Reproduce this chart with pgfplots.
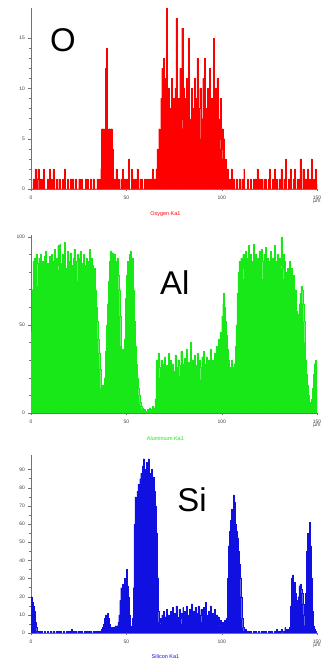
\documentclass[border=0pt]{standalone}
\usepackage{pgfplots}
\pgfplotsset{compat=1.18}
\usepackage{pgfplotstable}
\usepackage{fontspec}
\setmainfont{Liberation Sans}

\definecolor{oxred}{RGB}{255,0,0}
\definecolor{algreen}{RGB}{24,232,24}
\definecolor{siblue}{RGB}{16,16,224}

% EDS line scan, counts sampled every 0.5 um from 0 to 150 um
\pgfplotstableread[row sep=\\]{y\\
0\\0\\1\\0\\2\\0\\1\\2\\0\\1\\
0\\1\\0\\2\\0\\0\\0\\1\\0\\2\\
0\\1\\0\\2\\0\\0\\1\\0\\0\\1\\
0\\0\\0\\1\\0\\2\\0\\0\\1\\0\\
0\\1\\0\\1\\0\\0\\1\\0\\0\\0\\
1\\0\\0\\1\\0\\0\\0\\1\\0\\1\\
0\\0\\1\\0\\0\\1\\0\\0\\0\\1\\
0\\1\\0\\2\\6\\5\\6\\5\\12\\14\\
6\\5\\6\\5\\6\\4\\0\\1\\0\\2\\
0\\1\\0\\0\\1\\0\\2\\0\\1\\0\\
1\\0\\3\\0\\0\\2\\0\\1\\0\\1\\
0\\2\\0\\0\\1\\0\\1\\0\\0\\1\\
0\\1\\0\\1\\0\\1\\0\\2\\0\\1\\
1\\2\\4\\3\\6\\5\\9\\12\\6\\13\\
7\\11\\18\\6\\10\\5\\8\\11\\6\\9\\
7\\10\\17\\6\\9\\5\\12\\7\\16\\6\\
10\\5\\9\\11\\6\\15\\7\\5\\10\\6\\
8\\11\\5\\9\\13\\6\\8\\10\\5\\7\\
11\\6\\13\\8\\5\\10\\7\\12\\6\\9\\
5\\15\\8\\10\\6\\11\\7\\5\\9\\4\\
6\\3\\5\\2\\3\\1\\2\\0\\1\\0\\
2\\0\\1\\0\\0\\1\\0\\0\\1\\0\\
0\\1\\0\\2\\0\\0\\0\\1\\0\\0\\
1\\0\\0\\1\\0\\1\\0\\2\\0\\1\\
0\\1\\0\\0\\1\\0\\1\\0\\0\\1\\
2\\0\\0\\1\\0\\2\\0\\1\\0\\0\\
1\\0\\2\\0\\0\\1\\0\\3\\0\\0\\
1\\0\\2\\0\\0\\1\\2\\0\\0\\1\\
0\\1\\3\\0\\0\\2\\0\\0\\1\\0\\
2\\0\\1\\0\\3\\1\\0\\1\\2\\0\\
1\\
}\Odata

\pgfplotstableread[row sep=\\]{y\\
46\\70\\86\\88\\82\\90\\85\\72\\88\\86\\
90\\80\\86\\68\\89\\92\\80\\85\\75\\89\\
83\\90\\72\\86\\93\\78\\88\\84\\95\\81\\
96\\85\\73\\90\\88\\97\\82\\77\\92\\86\\
80\\91\\84\\72\\88\\93\\79\\86\\90\\75\\
88\\82\\92\\76\\85\\90\\72\\84\\88\\80\\
86\\93\\78\\88\\84\\76\\82\\70\\60\\52\\
42\\34\\25\\14\\10\\16\\12\\20\\35\\50\\
62\\75\\86\\92\\88\\91\\84\\90\\80\\86\\
88\\78\\70\\55\\38\\32\\36\\34\\42\\65\\
78\\86\\80\\90\\92\\86\\88\\70\\52\\38\\
28\\20\\14\\10\\6\\4\\2\\3\\1\\2\\
1\\0\\2\\1\\3\\2\\1\\4\\2\\3\\
8\\30\\22\\34\\26\\20\\30\\24\\18\\28\\
32\\22\\27\\20\\34\\25\\30\\19\\28\\24\\
22\\33\\26\\18\\30\\27\\21\\35\\24\\28\\
20\\31\\25\\36\\22\\29\\24\\40\\26\\30\\
22\\33\\27\\21\\34\\24\\30\\26\\19\\32\\
25\\35\\22\\28\\32\\24\\30\\27\\36\\29\\
30\\26\\34\\28\\38\\32\\42\\36\\46\\44\\
55\\62\\68\\60\\52\\44\\36\\30\\26\\24\\
30\\26\\22\\28\\38\\50\\68\\80\\86\\78\\
88\\82\\90\\76\\85\\92\\80\\88\\95\\84\\
90\\78\\86\\96\\82\\90\\74\\88\\84\\92\\
80\\93\\86\\76\\90\\84\\94\\78\\88\\82\\
86\\92\\76\\88\\84\\95\\80\\86\\90\\78\\
88\\84\\100\\82\\90\\76\\86\\80\\74\\82\\
80\\86\\74\\82\\70\\78\\64\\70\\58\\52\\
56\\62\\68\\72\\70\\62\\52\\40\\30\\22\\
16\\10\\6\\4\\8\\14\\22\\28\\30\\26\\
20\\
}\Aldata

\pgfplotstableread[row sep=\\]{y\\
20\\17\\15\\12\\6\\3\\1\\0\\1\\0\\
0\\1\\0\\0\\1\\0\\0\\1\\0\\0\\
1\\0\\0\\1\\0\\0\\1\\0\\1\\0\\
0\\1\\0\\0\\1\\0\\0\\1\\0\\1\\
1\\0\\2\\0\\1\\0\\1\\0\\0\\1\\
0\\1\\0\\1\\0\\0\\1\\0\\1\\0\\
1\\0\\1\\0\\0\\1\\0\\1\\1\\0\\
1\\0\\1\\1\\2\\3\\5\\8\\10\\9\\
11\\8\\5\\3\\2\\3\\2\\3\\4\\3\\
4\\6\\10\\18\\25\\22\\27\\24\\30\\28\\
35\\26\\20\\10\\4\\3\\8\\25\\60\\75\\
70\\78\\82\\80\\85\\88\\84\\92\\96\\90\\
86\\94\\82\\96\\88\\84\\90\\80\\86\\78\\
70\\55\\30\\12\\6\\8\\5\\10\\7\\12\\
6\\9\\13\\7\\10\\5\\12\\8\\14\\6\\
11\\7\\15\\9\\6\\13\\8\\11\\5\\14\\
9\\12\\6\\15\\8\\10\\13\\7\\16\\9\\
12\\6\\14\\8\\11\\15\\7\\10\\13\\6\\
9\\14\\7\\17\\10\\8\\12\\6\\15\\9\\
11\\7\\13\\8\\10\\6\\9\\5\\7\\4\\
6\\5\\4\\7\\5\\8\\30\\48\\56\\62\\
68\\65\\76\\72\\60\\56\\52\\45\\38\\30\\
20\\8\\3\\1\\0\\2\\1\\0\\1\\0\\
1\\0\\0\\1\\0\\1\\0\\0\\1\\0\\
0\\1\\0\\1\\0\\0\\1\\0\\0\\1\\
1\\0\\1\\0\\0\\1\\0\\2\\1\\0\\
1\\0\\2\\1\\0\\1\\3\\2\\1\\2\\
2\\3\\15\\30\\32\\26\\28\\22\\18\\12\\
20\\26\\27\\24\\22\\16\\10\\4\\22\\45\\
55\\50\\61\\48\\30\\12\\4\\2\\1\\0\\
0\\
}\Sidata

\pgfplotsset{
  scan/.style={
    scale only axis, width=286bp, anchor=south west,
    xmin=0, xmax=150, ymin=0,
    axis x line*=bottom, axis y line*=left,
    axis line style={black!55, line width=0.4pt},
    tick align=outside, major tick length=2.5bp, minor tick length=1.5bp,
    every tick/.style={black!55, line width=0.3pt},
    xtick={0,50,100,150}, minor x tick num=4,
    xticklabels={0,50,100,{150\\[-1.5pt]µm}},
    xticklabel style={align=center, yshift=-1bp},
    tick label style={font=\fontsize{5}{5}\selectfont, text=black!75},
    /pgf/number format/assume math mode=true,
    xlabel style={at={(axis description cs:0.47,0)}, anchor=center,
      font=\fontsize{5.5}{5.5}\selectfont},
  },
  trace/.style={const plot, fill=#1, draw=#1, line width=0.15pt},
}

\begin{document}
\begin{tikzpicture}
\path[use as bounding box] (0,0) rectangle (322bp,663bp);

% oxygen
\begin{axis}[scan, at={(31bp,474bp)}, height=181bp, ymax=18,
  ytick={0,5,10,15}, minor y tick num=4,
  xlabel={Oxygen Ka1}, xlabel style={text=oxred, yshift=-25bp}]
  \addplot[trace=oxred] table[x expr=\coordindex*0.5, y=y] {\Odata} \closedcycle;
  \node[font=\fontsize{33}{33}\selectfont] at (rel axis cs:0.112,0.823) {O};
\end{axis}

% aluminium
\begin{axis}[scan, at={(31bp,250bp)}, height=178bp, ymax=101,
  ytick={0,50,100}, minor y tick num=4,
  xlabel={Aluminium Ka1}, xlabel style={text=algreen, yshift=-26bp}]
  \addplot[trace=algreen] table[x expr=\coordindex*0.5, y=y] {\Aldata} \closedcycle;
  \node[font=\fontsize{33}{33}\selectfont] at (rel axis cs:0.503,0.73) {Al};
\end{axis}

% silicon
\begin{axis}[scan, at={(31bp,30bp)}, height=178bp, ymax=98,
  ytick={0,10,...,90}, minor y tick num=1,
  xlabel={Silicon Ka1}, xlabel style={text=siblue, yshift=-24bp}]
  \addplot[trace=siblue] table[x expr=\coordindex*0.5, y=y] {\Sidata} \closedcycle;
  \node[font=\fontsize{33}{33}\selectfont] at (rel axis cs:0.563,0.747) {Si};
\end{axis}
\end{tikzpicture}
\end{document}
